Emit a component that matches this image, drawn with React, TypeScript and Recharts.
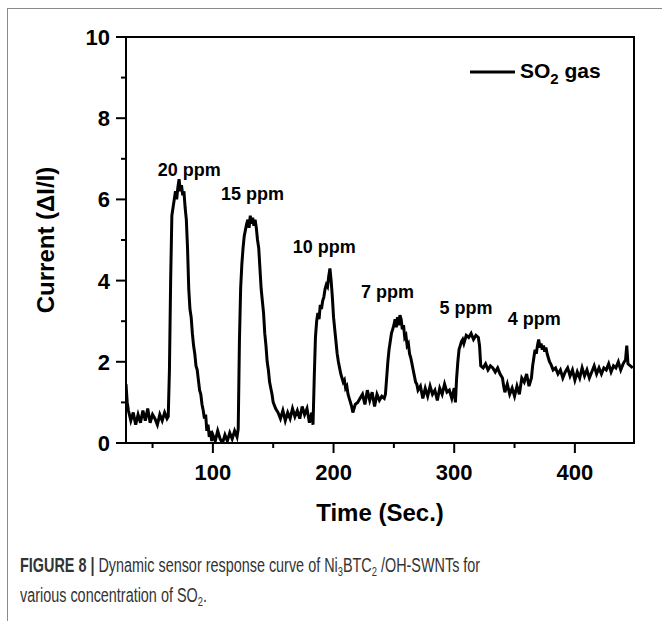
import { LineChart, Line, XAxis, YAxis, ReferenceArea, ReferenceDot, Legend } from 'recharts'

type Pt = [number, number]

// time (s), current (ΔI/I), one array per exposure step
const baselineStart: Pt[] = [
  [28, 1.45], [29, 1.0], [30, 0.8], [32, 0.55], [34, 0.75], [36, 0.45], [38, 0.7], [40, 0.5],
  [42, 0.8], [44, 0.55], [46, 0.85], [48, 0.5], [50, 0.7], [52, 0.6], [54, 0.45], [56, 0.7],
  [58, 0.55], [60, 0.75], [62, 0.6], [63, 0.65],
]
const pulse20: Pt[] = [
  [64, 1.8], [65, 4.0], [66, 5.6], [67, 5.8], [68, 6.0], [69, 6.2], [70, 6.0], [71, 6.3],
  [72, 6.5], [73, 6.2], [74, 6.35], [75, 6.1], [76, 6.2], [77, 5.8], [78, 5.5], [79, 4.8],
  [80, 3.8], [81, 3.3], [82, 3.1], [83, 2.7], [84, 2.4], [85, 2.2], [86, 1.9], [87, 1.8],
  [88, 1.55], [89, 1.3], [90, 1.2], [91, 0.95], [92, 0.8], [93, 0.6], [94, 0.7], [95, 0.3],
  [96, 0.45], [97, 0.15], [98, 0.3], [99, 0.05], [100, 0.2], [102, 0.05], [104, 0.3], [106, 0.1],
  [108, 0.0], [110, 0.2], [112, 0.05], [114, 0.25], [116, 0.1], [118, 0.3], [120, 0.15], [121, 0.35],
]
const pulse15: Pt[] = [
  [122, 2.5], [123, 3.8], [124, 4.4], [125, 4.8], [126, 5.1], [127, 5.25], [128, 5.4], [129, 5.5],
  [130, 5.3], [131, 5.6], [132, 5.4], [133, 5.55], [134, 5.35], [135, 5.5], [136, 5.3], [137, 5.0],
  [138, 4.8], [139, 4.3], [140, 3.8], [141, 3.5], [142, 3.2], [143, 2.7], [144, 2.4], [145, 2.0],
  [146, 1.8], [147, 1.5], [148, 1.35], [149, 1.2], [150, 1.0], [152, 0.85], [154, 0.75], [156, 0.6],
  [158, 0.8], [160, 0.55], [162, 0.75], [164, 0.6], [166, 0.85], [168, 0.65], [170, 0.8], [172, 0.6],
  [174, 0.9], [176, 0.7], [178, 0.85], [180, 0.5], [182, 0.75], [183, 0.45],
]
const pulse10: Pt[] = [
  [184, 1.6], [185, 2.6], [186, 3.0], [187, 3.2], [188, 3.05], [189, 3.4], [190, 3.3], [191, 3.5],
  [192, 3.6], [193, 3.8], [194, 3.9], [195, 3.85], [196, 4.1], [197, 4.3], [198, 4.0], [199, 3.6],
  [200, 3.1], [201, 2.8], [202, 2.5], [203, 2.2], [204, 2.0], [205, 1.85], [206, 1.7], [207, 1.6],
  [208, 1.5], [209, 1.55], [210, 1.35], [211, 1.4], [212, 1.2], [213, 1.1], [214, 1.0], [215, 0.9],
  [216, 0.75], [217, 0.85], [218, 0.95], [220, 1.0], [222, 1.1], [224, 1.2], [226, 0.95], [228, 1.3],
  [230, 1.05], [232, 1.25], [234, 0.9], [236, 1.2], [238, 1.05], [240, 1.15], [242, 1.1], [243, 1.2],
]
const pulse7: Pt[] = [
  [244, 1.6], [245, 2.0], [246, 2.3], [247, 2.5], [248, 2.7], [249, 2.8], [250, 2.9], [251, 3.05],
  [252, 2.85], [253, 3.1], [254, 2.9], [255, 3.15], [256, 3.05], [257, 2.8], [258, 2.9], [259, 2.6],
  [260, 2.65], [261, 2.4], [262, 2.45], [263, 2.2], [264, 2.1], [265, 1.95], [266, 1.8], [267, 1.65],
  [268, 1.5], [269, 1.45], [270, 1.3], [272, 1.4], [274, 1.1], [276, 1.35], [278, 1.15], [280, 1.4],
  [282, 1.2], [284, 1.3], [286, 1.05], [288, 1.35], [290, 1.2], [292, 1.45], [294, 1.25], [296, 1.3],
  [298, 1.1], [300, 1.35], [301, 1.0],
]
const pulse5: Pt[] = [
  [302, 1.6], [303, 2.0], [304, 2.3], [305, 2.4], [306, 2.5], [307, 2.55], [308, 2.45], [310, 2.65],
  [312, 2.6], [314, 2.7], [316, 2.55], [318, 2.65], [320, 2.6], [321, 2.4], [322, 1.9], [324, 1.85],
  [326, 1.95], [328, 1.8], [330, 1.9], [332, 1.85], [334, 1.75], [336, 1.85], [338, 1.7], [340, 1.6],
  [341, 1.4], [342, 1.25], [344, 1.45], [346, 1.2], [348, 1.35], [350, 1.15], [352, 1.4], [354, 1.2],
  [356, 1.6], [358, 1.5], [360, 1.7], [362, 1.4], [364, 1.6],
]
const pulse4: Pt[] = [
  [365, 1.9], [366, 2.1], [367, 2.3], [368, 2.2], [369, 2.4], [370, 2.55], [371, 2.35], [372, 2.45],
  [373, 2.3], [374, 2.4], [375, 2.25], [376, 2.35], [377, 2.2], [378, 2.1], [379, 2.0], [380, 1.95],
  [382, 1.8], [384, 1.85], [386, 1.7], [388, 1.8], [390, 1.6], [392, 1.75], [394, 1.85], [396, 1.65],
  [398, 1.8], [400, 1.55], [402, 1.75], [404, 1.6], [406, 1.85], [408, 1.65], [410, 1.8], [412, 1.6],
  [414, 1.75], [416, 1.9], [418, 1.7], [420, 1.85], [422, 1.7], [424, 1.85], [426, 1.8], [428, 1.95],
  [430, 1.75], [432, 1.9], [434, 1.85], [436, 2.0], [438, 1.8], [440, 1.95], [442, 2.05], [443, 2.4],
  [444, 1.95], [446, 1.9], [448, 1.85],
]

const peakLabels = [
  { text: '20 ppm', t: 80.4, v: 6.58 },
  { text: '15 ppm', t: 132.8, v: 5.99 },
  { text: '10 ppm', t: 192.3, v: 4.67 },
  { text: '7 ppm', t: 244.7, v: 3.58 },
  { text: '5 ppm', t: 309.8, v: 3.18 },
  { text: '4 ppm', t: 366.3, v: 2.91 },
]

const xDomain: [number, number] = [28, 449]
const yDomain: [number, number] = [0, 10]
const xTicks = [50, 100, 150, 200, 250, 300, 350, 400]
const yTicks = [0, 1, 2, 3, 4, 5, 6, 7, 8, 9, 10]

const data = [baselineStart, pulse20, pulse15, pulse10, pulse7, pulse5, pulse4]
  .flat()
  .map(([t, current]) => ({ t, current }))

const font = '"Liberation Sans", Arial, sans-serif'

const XTick = ({ x, y, payload }: any) => {
  const major = payload.value % 100 === 0
  return (
    <g>
      <line x1={x} y1={y} x2={x} y2={y + (major ? 10 : 5)} stroke="#000" strokeWidth={2} />
      {major && (
        <text x={x} y={y + 37} textAnchor="middle" fontSize={22} fontWeight="bold" fontFamily={font} fill="#000">
          {payload.value}
        </text>
      )}
    </g>
  )
}

const YTick = ({ x, y, payload }: any) => {
  const major = payload.value % 2 === 0
  return (
    <g>
      <line x1={x - (major ? 10 : 5)} y1={y} x2={x} y2={y} stroke="#000" strokeWidth={2} />
      {major && (
        <text x={x - 16} y={y} dy="0.36em" textAnchor="end" fontSize={22} fontWeight="bold" fontFamily={font} fill="#000">
          {payload.value}
        </text>
      )}
    </g>
  )
}

const YTitle = ({ viewBox }: any) => {
  const cx = viewBox.x - 21
  const cy = viewBox.y + viewBox.height / 2
  return (
    <text x={cx} y={cy} transform={`rotate(-90, ${cx}, ${cy})`} textAnchor="middle" dy="0.36em"
      fontSize={24} fontWeight="bold" fontFamily={font} fill="#000">
      Current (ΔI/I)
    </text>
  )
}

const XTitle = ({ viewBox }: any) => (
  <text x={viewBox.x + viewBox.width / 2} y={viewBox.y + 78} textAnchor="middle"
    fontSize={24} fontWeight="bold" fontFamily={font} fill="#000">
    Time (Sec.)
  </text>
)

const LegendBox = () => (
  <svg width={160} height={32}>
    <line x1={4} y1={14} x2={49} y2={14} stroke="#000" strokeWidth={3} />
    <text x={54} y={20} fontSize={21} fontWeight="bold" fontFamily={font} fill="#000">
      SO<tspan fontSize={15} dy={6}>2</tspan><tspan dy={-6}> gas</tspan>
    </text>
  </svg>
)

const sub = { fontSize: 13, lineHeight: 0, verticalAlign: 'baseline', position: 'relative' as const, top: 4 }
const captionLine = {
  position: 'absolute' as const,
  left: 20,
  whiteSpace: 'nowrap' as const,
  fontFamily: font,
  fontSize: 20,
  lineHeight: '22px',
  color: '#333',
  transform: 'scaleX(0.72)',
  transformOrigin: 'left center',
}

export default function App() {
  return (
    <div style={{ position: 'relative', width: 662, height: 621, background: '#fff', overflow: 'hidden' }}>
      <style>{'body{margin:0}'}</style>
      <div style={{ position: 'absolute', left: 7, top: 8, width: 700, height: 700, borderLeft: '1px solid #8a8a8a', borderTop: '1px solid #8a8a8a' }} />
      <div style={{ position: 'absolute', left: 0, top: 0 }}>
        <LineChart width={662} height={540} data={data} margin={{ top: 37, right: 28, left: 66, bottom: 17 }}>
          <ReferenceArea x1={xDomain[0]} x2={xDomain[1]} y1={yDomain[0]} y2={yDomain[1]} fill="none" stroke="#000" strokeWidth={2} ifOverflow="visible" />
          <XAxis dataKey="t" type="number" domain={xDomain} ticks={xTicks} allowDataOverflow height={80}
            tickLine={false} tickSize={0} tickMargin={0} tick={<XTick />} interval={0}
            axisLine={{ stroke: '#000', strokeWidth: 2 }} label={(p: any) => <XTitle {...p} />} />
          <YAxis type="number" domain={yDomain} ticks={yTicks} allowDataOverflow width={60}
            tickLine={false} tickSize={0} tickMargin={0} tick={<YTick />} interval={0}
            axisLine={{ stroke: '#000', strokeWidth: 2 }} label={(p: any) => <YTitle {...p} />} />
          <Legend layout="horizontal" verticalAlign="middle" align="center" content={<LegendBox />}
            wrapperStyle={{ left: 466, top: 58, width: 160, height: 32 }} />
          <Line type="linear" dataKey="current" name="SO2 gas" stroke="#000" strokeWidth={3} dot={false} isAnimationActive={false} />
          {peakLabels.map((p) => (
            <ReferenceDot key={p.text} x={p.t} y={p.v} r={0} ifOverflow="visible"
              shape={(s: any) => (
                <text x={s.cx} y={s.cy} textAnchor="middle" fontSize={18} fontWeight="bold" fontFamily={font} fill="#000">
                  {p.text}
                </text>
              )} />
          ))}
        </LineChart>
      </div>
      <div style={{ ...captionLine, top: 554 }}>
        <b>FIGURE 8 |</b> Dynamic sensor response curve of Ni<span style={sub}>3</span>BTC<span style={sub}>2</span> /OH-SWNTs for
      </div>
      <div style={{ ...captionLine, top: 584 }}>
        various concentration of SO<span style={sub}>2</span>.
      </div>
    </div>
  )
}
